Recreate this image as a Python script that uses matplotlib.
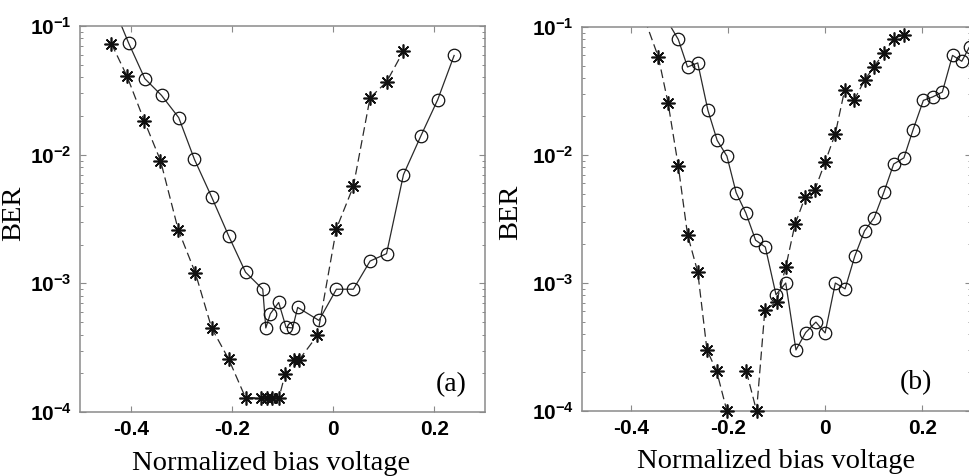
import numpy as np
import matplotlib
matplotlib.use("Agg")
import matplotlib.pyplot as plt
from matplotlib.ticker import FixedLocator, FixedFormatter, LogLocator, NullFormatter

# ---------------- data ----------------
x_ticks = [-0.4, -0.2, 0.0, 0.2]
x_tick_labels = ["-0.4", "-0.2", "0", "0.2"]
y_ticks = [1e-4, 1e-3, 1e-2, 1e-1]
y_tick_labels = [r"$\mathbf{10^{-4}}$", r"$\mathbf{10^{-3}}$", r"$\mathbf{10^{-2}}$", r"$\mathbf{10^{-1}}$"]

# panel (a)
a_star_x = [-0.438, -0.407, -0.373, -0.341, -0.306, -0.272, -0.240, -0.206, -0.173,
            -0.142, -0.131, -0.120, -0.107, -0.0945, -0.078, -0.068, -0.031,
            0.0065, 0.040, 0.073, 0.1055, 0.139]
a_star_y = [0.073, 0.0406, 0.0183, 0.0090, 0.00261, 0.00120, 4.5e-4, 2.56e-4, 1.29e-4,
            1.29e-4, 1.29e-4, 1.29e-4, 1.29e-4, 1.99e-4, 2.52e-4, 2.52e-4, 3.94e-4,
            2.66e-3, 5.67e-3, 0.0277, 0.0367, 0.064]

a_circ_x = [-0.43, -0.404, -0.372, -0.339, -0.305, -0.274, -0.240, -0.206, -0.173,
            -0.139, -0.133, -0.124, -0.1075, -0.093, -0.080, -0.070, -0.028,
            0.0065, 0.040, 0.073, 0.1055, 0.139, 0.173, 0.2065, 0.239]
a_circ_y = [0.13, 0.0738, 0.039, 0.0289, 0.0194, 0.0092, 0.00469, 0.00232, 0.00122,
            9.0e-4, 4.5e-4, 5.8e-4, 7.1e-4, 4.55e-4, 4.5e-4, 6.5e-4, 5.15e-4,
            9.0e-4, 9.0e-4, 1.49e-3, 1.70e-3, 7.0e-3, 0.0139, 0.0267, 0.059]

# panel (b)  (nan = gap in the measured curve)
b_star_x = [-0.38, -0.343, -0.323, -0.302, -0.283, -0.262, -0.243, -0.223, -0.202, np.nan,
            -0.162, -0.141, -0.124, -0.100, -0.081, -0.062, -0.041, -0.021, 0.0, 0.021,
            0.040, 0.060, 0.081, 0.100, 0.121, 0.141, 0.162]
b_star_y = [0.1426, 0.0583, 0.0255, 0.0082, 0.00239, 0.00122, 3.0e-4, 2.04e-4, 1.0e-4, np.nan,
            2.04e-4, 1.0e-4, 6.1e-4, 7.1e-4, 1.33e-3, 2.87e-3, 4.7e-3, 5.36e-3, 8.8e-3, 0.0147,
            0.032, 0.027, 0.0383, 0.0486, 0.0627, 0.081, 0.087]

b_circ_x = [-0.34, -0.302, -0.283, -0.262, -0.241, -0.222, -0.202, -0.183, -0.163, -0.143,
            -0.123, -0.101, -0.081, -0.060, -0.040, -0.019, 0.0, 0.021, 0.041, 0.061,
            0.081, 0.101, 0.121, 0.141, 0.162, 0.181, 0.202, 0.221, 0.241, 0.262,
            0.281, 0.297]
b_circ_y = [0.14, 0.080, 0.0487, 0.0524, 0.0223, 0.0130, 0.0098, 0.00508, 0.00352, 0.00216,
            0.00191, 8.1e-4, 1.0e-3, 3.0e-4, 4.1e-4, 4.95e-4, 4.07e-4, 1.0e-3, 9.0e-4, 1.62e-3,
            2.55e-3, 3.24e-3, 5.14e-3, 8.5e-3, 9.5e-3, 0.0158, 0.0267, 0.0284, 0.031, 0.060,
            0.054, 0.070]

panel_labels = ["(a)", "(b)"]
x_label = "Normalized bias voltage"
y_label = "BER"

# ---------------- style ----------------
plt.rcParams['mathtext.fontset'] = 'custom'
plt.rcParams['mathtext.bf'] = 'Liberation Sans:bold'
plt.rcParams['mathtext.rm'] = 'Liberation Sans'
plt.rcParams['axes.unicode_minus'] = False

LINE_C = '#2a2a2a'
SPINE_C = '#8a8a8a'
STAR = (8, 2, 0)

fig = plt.figure(figsize=(9.69, 4.76), dpi=100)
axA = fig.add_axes([80/969, 64/476, 405/969, 386/476])
axB = fig.add_axes([582/969, 65/476, 389/969, 384/476])


def draw_series(ax, xs, ys, marker, ms, ls, mew, dashes=None):
    xs = np.asarray(xs, float)
    ys = np.asarray(ys, float)
    kw = dict(color=LINE_C, lw=0.9, linestyle=ls)
    if dashes is not None:
        kw['dashes'] = dashes
    ax.plot(xs, ys, **kw)
    inside = ys <= 0.1
    ax.plot(xs[inside], ys[inside], linestyle='none', marker=marker, ms=ms,
            mfc='none', mec='#111111', mew=mew, clip_on=False, zorder=3)


def style_axes(ax, label, label_pos, ylab_pos, xlab_x):
    ax.set_yscale('log')
    ax.set_xlim(-0.5, 0.3)
    ax.set_ylim(1e-4, 1e-1)
    ax.xaxis.set_major_locator(FixedLocator(x_ticks))
    ax.xaxis.set_major_formatter(FixedFormatter(x_tick_labels))
    ax.yaxis.set_major_locator(FixedLocator(y_ticks))
    ax.yaxis.set_major_formatter(FixedFormatter(y_tick_labels))
    ax.yaxis.set_minor_locator(LogLocator(base=10, subs=np.arange(2, 10)))
    ax.yaxis.set_minor_formatter(NullFormatter())
    ax.tick_params(which='both', direction='in', top=True, right=True, color=SPINE_C)
    ax.tick_params(which='major', length=4, width=0.8)
    ax.tick_params(which='minor', length=2.5, width=0.7)
    ax.tick_params(axis='x', pad=6)
    ax.tick_params(axis='y', pad=6)
    for lab in ax.get_xticklabels():
        lab.set_fontfamily('Liberation Sans')
        lab.set_fontweight('bold')
        lab.set_fontsize(15)
    for lab in ax.get_yticklabels():
        lab.set_fontsize(15)
    for sp in ax.spines.values():
        sp.set_color(SPINE_C)
        sp.set_linewidth(1.1)
    ax.set_xlabel(x_label, fontfamily='Liberation Serif', fontsize=20.5)
    ax.set_ylabel(y_label, fontfamily='Liberation Serif', fontsize=20.5)
    ax.xaxis.set_label_coords(xlab_x, -0.1)
    ax.yaxis.set_label_coords(*ylab_pos)
    ax.text(label_pos[0], label_pos[1], label, transform=ax.transAxes,
            fontfamily='Liberation Serif', fontsize=20, ha='center', va='center')


draw_series(axA, a_star_x, a_star_y, STAR, 10, '--', 1.2, dashes=(7, 3.5))
draw_series(axA, a_circ_x, a_circ_y, 'o', 9, '-', 0.9)
style_axes(axA, panel_labels[0], (0.916, 0.07), (-0.133, 0.515), 0.472)

draw_series(axB, b_star_x, b_star_y, STAR, 10, '--', 1.2, dashes=(7, 3.5))
draw_series(axB, b_circ_x, b_circ_y, 'o', 9, '-', 0.9)
style_axes(axB, panel_labels[1], (0.858, 0.075), (-0.152, 0.517), 0.5)

fig.savefig('out.png', dpi=100)
